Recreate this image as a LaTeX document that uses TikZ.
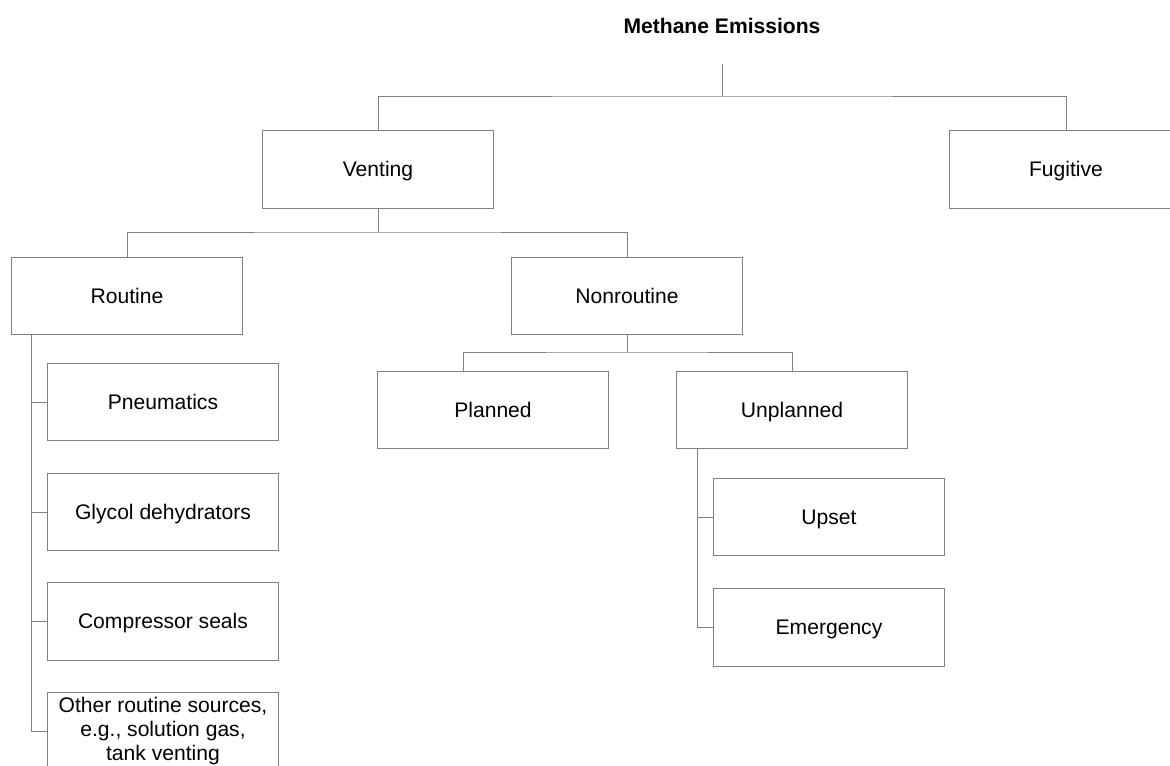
\documentclass[tikz,border=0pt]{standalone}
\usepackage{fontspec}
\setmainfont{Liberation Sans}
\usetikzlibrary{positioning,calc}

\tikzset{
  box/.style={draw=gray,line width=0.7pt,rectangle,inner sep=0pt,
    minimum width=5.75cm,minimum height=1.93cm,align=center,
    font=\fontsize{15}{17}\selectfont},
  cell/.style={box,text height=11pt,text depth=1pt},
  link/.style={draw=gray,line width=0.7pt},
}

\begin{document}
\begin{tikzpicture}[x=0.025cm,y=-0.025cm]
\useasboundingbox (0,0) rectangle (1170,766);

\node[font=\fontsize{15}{17}\selectfont\bfseries] (title) at (722,26) {Methane Emissions};
\coordinate (top) at (722,64);
\coordinate (hubA) at (722,96);

\node[cell] (venting) at (378,169.5) {Venting};
\node[cell,minimum width=5.8cm] (fugitive) at (1066,169.5) {Fugitive};%clipped at right
\coordinate (hubB) at (378,232);

\node[cell] (routine) at (127,296) {Routine};
\node[cell] (nonroutine) at (627,296) {Nonroutine};
\coordinate (hubC) at (627,352);

\node[cell] (planned) at (493,410) {Planned};
\node[cell] (unplanned) at (792,410) {Unplanned};

\node[cell] (pneu) at (163,402) {Pneumatics};
\node[cell] (glycol) at (163,512) {Glycol dehydrators};
\node[cell] (compr) at (163,621.5) {Compressor seals};
\node[box] (other) at (163,731) {Other routine sources,\\ e.g., solution gas,\\ tank venting};

\node[cell] (upset) at (829,517) {Upset};
\node[cell] (emerg) at (829,627.5) {Emergency};

\coordinate (rbar) at (31,335);
\coordinate (ubar) at (697,448);

% tree links
\draw[link] (top) -- (hubA);
\draw[link] (venting.north) |- (hubA) -| (fugitive.north);
\draw[link] (venting.south) -- (hubB);
\draw[link] (routine.north) |- (hubB) -| (nonroutine.north);
\draw[link] (nonroutine.south) -- (hubC);
\draw[link] ([xshift=-0.75cm]planned.north) |- (hubC) -| (unplanned.north);

% side bars
\draw[link] (rbar) |- (other.west);
\foreach \n in {pneu,glycol,compr}
  \draw[link] (\n.west) -- (rbar |- \n.west);
\draw[link] (ubar) |- (emerg.west);
\draw[link] (upset.west) -- (ubar |- upset.west);

\end{tikzpicture}
\end{document}
